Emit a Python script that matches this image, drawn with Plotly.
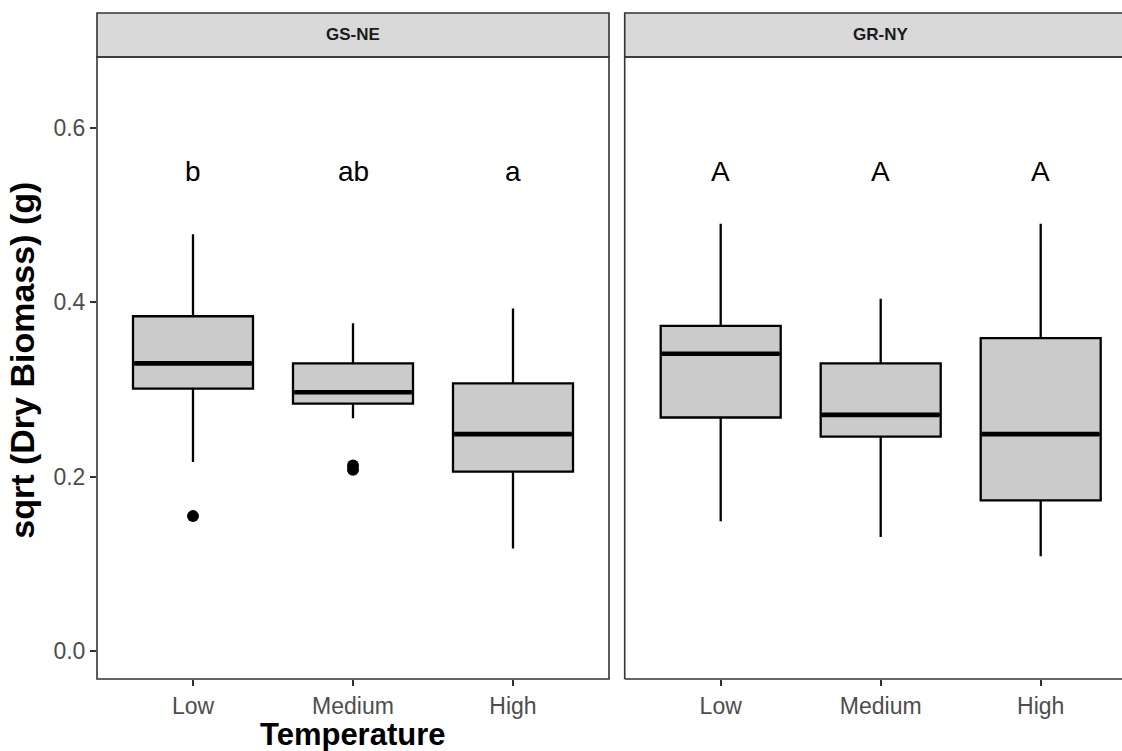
import plotly.graph_objects as go

# ---------------- data ----------------
categories = ["Low", "Medium", "High"]
panels = ["GS-NE", "GR-NY"]

gsne_q1 = [0.301, 0.284, 0.206]
gsne_median = [0.330, 0.297, 0.249]
gsne_q3 = [0.384, 0.330, 0.307]
gsne_lower = [0.217, 0.267, 0.118]
gsne_upper = [0.478, 0.376, 0.393]
gsne_outlier_x = ["Low", "Medium", "Medium"]
gsne_outlier_y = [0.155, 0.213, 0.208]

grny_q1 = [0.268, 0.246, 0.173]
grny_median = [0.341, 0.271, 0.249]
grny_q3 = [0.373, 0.330, 0.359]
grny_lower = [0.149, 0.131, 0.109]
grny_upper = [0.490, 0.404, 0.490]

gsne_letters = ["b", "ab", "a"]
grny_letters = ["A", "A", "A"]
letter_y = 0.55

y_ticks = [0.0, 0.2, 0.4, 0.6]
y_range = [-0.0316, 0.681]

# ---------------- style ----------------
FONT = "Liberation Sans, Arial, sans-serif"
FILL = "#CBCBCB"
EDGE = "#000000"
GREY20 = "#333333"
GREY30 = "#4D4D4D"
BOXW = 0.75

W, H = 1122, 751
ML, MR, MT, MB = 97, 0, 57, 72
PW = W - ML - MR
PH = H - MT - MB
left_dom = [0, 512 / PW]
right_dom = [(624.7 - ML) / PW, 1.0]
unit_px = 160.0
right_span = (W - 624.7) / unit_px
xpos = list(range(len(categories)))

fig = go.Figure()


def add_panel(xa, ya, q1, med, q3, lo, hi):
    fig.add_trace(go.Box(
        x=xpos, q1=q1, median=med, q3=q3,
        lowerfence=lo, upperfence=hi,
        fillcolor=FILL, line=dict(color=EDGE, width=2.3),
        whiskerwidth=0, width=BOXW, boxpoints=False,
        xaxis=xa, yaxis=ya, showlegend=False, hoverinfo="skip",
    ))
    # thicker median lines, as in ggplot
    for i, m in zip(xpos, med):
        fig.add_trace(go.Scatter(
            x=[i - BOXW / 2 + 0.008, i + BOXW / 2 - 0.008], y=[m, m],
            mode="lines", line=dict(color=EDGE, width=4.6),
            xaxis=xa, yaxis=ya, showlegend=False, hoverinfo="skip",
        ))


add_panel("x", "y", gsne_q1, gsne_median, gsne_q3, gsne_lower, gsne_upper)
add_panel("x2", "y2", grny_q1, grny_median, grny_q3, grny_lower, grny_upper)

fig.add_trace(go.Scatter(
    x=[categories.index(c) for c in gsne_outlier_x], y=gsne_outlier_y,
    mode="markers", marker=dict(color=EDGE, size=12),
    xaxis="x", yaxis="y", showlegend=False, hoverinfo="skip",
))

# letters
for i, t in zip(xpos, gsne_letters):
    fig.add_annotation(x=i, y=letter_y, xref="x", yref="y", text=t,
                       showarrow=False, font=dict(family=FONT, size=28, color="#000000"))
for i, t in zip(xpos, grny_letters):
    fig.add_annotation(x=i, y=letter_y, xref="x2", yref="y2", text=t,
                       showarrow=False, font=dict(family=FONT, size=28, color="#000000"))

tickfont = dict(family=FONT, size=23, color=GREY30)
xcommon = dict(type="linear", tickmode="array", tickvals=xpos, ticktext=categories,
               ticks="outside", ticklen=6, tickwidth=1.6, tickcolor=GREY20,
               showgrid=False, zeroline=False, showline=False, tickfont=tickfont)

fig.update_layout(
    width=W, height=H,
    margin=dict(l=ML, r=MR, t=MT, b=MB, pad=0),
    paper_bgcolor="white", plot_bgcolor="white",
    xaxis=dict(domain=left_dom, range=[-0.6, 2.6], anchor="y", **xcommon),
    xaxis2=dict(domain=right_dom, range=[-0.6, -0.6 + right_span], anchor="y2", **xcommon),
    yaxis=dict(domain=[0, 1], range=y_range, tickmode="array", tickvals=y_ticks,
               ticktext=[f"{v:.1f}" for v in y_ticks],
               ticks="outside", ticklen=6, tickwidth=1.6, tickcolor=GREY20,
               showgrid=False, zeroline=False, showline=False, tickfont=tickfont,
               anchor="x"),
    yaxis2=dict(domain=[0, 1], range=y_range, matches="y", showticklabels=False,
                ticks="", showgrid=False, zeroline=False, showline=False, anchor="x2"),
    showlegend=False,
)

# panel borders
line = dict(color=GREY20, width=1.6)
fig.add_shape(type="rect", xref="x domain", yref="y domain", x0=0, x1=1, y0=0, y1=1,
              line=line, fillcolor="rgba(0,0,0,0)", layer="above")
for (x0, y0, x1, y1) in [(0, 0, 1.1, 0), (0, 1, 1.1, 1), (0, 0, 0, 1)]:
    fig.add_shape(type="line", xref="x2 domain", yref="y2 domain",
                  x0=x0, y0=y0, x1=x1, y1=y1, line=line, layer="above")

# strips
strip_h = 44 / PH
fig.add_shape(type="rect", xref="x domain", yref="paper", x0=0, x1=1, y0=1, y1=1 + strip_h,
              line=line, fillcolor="#D9D9D9", layer="below")
fig.add_shape(type="rect", xref="x2 domain", yref="paper", x0=0, x1=1.1, y0=1, y1=1 + strip_h,
              line=line, fillcolor="#D9D9D9", layer="below")
fig.add_annotation(x=0.5, xref="x domain", y=1 + strip_h / 2, yref="paper", text="<b>GS-NE</b>",
                   showarrow=False, xanchor="center", yanchor="middle",
                   font=dict(family=FONT, size=17, color="#1A1A1A"))
fig.add_annotation(x=(512 / 2) / (W - 624.7), xref="x2 domain", y=1 + strip_h / 2, yref="paper",
                   text="<b>GR-NY</b>", showarrow=False, xanchor="center", yanchor="middle",
                   font=dict(family=FONT, size=17, color="#1A1A1A"))

# axis titles
fig.add_annotation(x=1, xref="x", y=(679.3 - 735) / PH, yref="paper", text="<b>Temperature</b>",
                   showarrow=False, yanchor="middle",
                   font=dict(family=FONT, size=31, color="#000000"))
fig.add_annotation(x=(22 - ML) / PW, xref="paper", y=(679.3 - 361) / PH, yref="paper",
                   text="<b>sqrt (Dry Biomass) (g)</b>", textangle=-90, showarrow=False,
                   xanchor="center", yanchor="middle",
                   font=dict(family=FONT, size=34, color="#000000"))

fig.write_html("out.html", config={"displayModeBar": False},
               post_script="document.body.style.margin='0';document.body.style.padding='0';"
                           "document.body.style.overflow='hidden';")
